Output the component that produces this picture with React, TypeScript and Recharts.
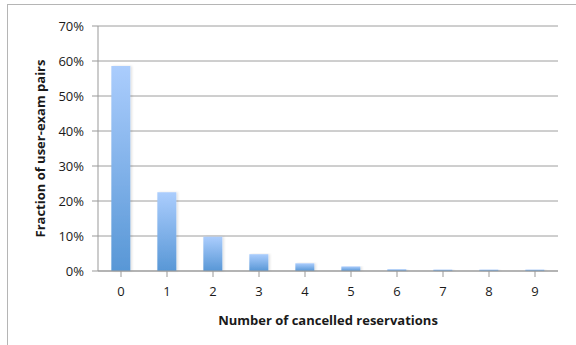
import React from 'react';
import {
  BarChart,
  Bar,
  XAxis,
  YAxis,
  CartesianGrid,
  Label
} from 'recharts';

// share of user-exam pairs by number of cancelled reservations
const cancellations = ['0', '1', '2', '3', '4', '5', '6', '7', '8', '9'];
const fractions = [0.586, 0.225, 0.098, 0.048, 0.022, 0.013, 0.005, 0.004, 0.004, 0.004];
const yTicks = [0, 0.1, 0.2, 0.3, 0.4, 0.5, 0.6, 0.7];

const data = cancellations.map((count, i) => ({ count, fraction: fractions[i] }));

const FONT = '"Open Sans", "Liberation Sans", sans-serif';
const TEXT = '#1a1a1a';

const App: React.FC = () => {
  return (
    <div
      style={{
        position: 'absolute',
        left: 0,
        top: 0,
        width: 576,
        height: 345,
        overflow: 'hidden',
        background: '#fff',
        fontFamily: FONT
      }}
    >
      <div
        style={{
          position: 'absolute',
          left: 7,
          top: 4,
          width: 620,
          height: 400,
          border: '1px solid #b5b5b5'
        }}
      />
      <BarChart
        width={576}
        height={345}
        data={data}
        margin={{ top: 26, right: 18, left: 0, bottom: 0 }}
        barCategoryGap="29%"
        style={{ position: 'absolute', left: 0, top: 0 }}
      >
        <defs>
          <linearGradient id="barFill" x1="0" y1="0" x2="0" y2="1">
            <stop offset="0%" stopColor="#abcdfd" />
            <stop offset="100%" stopColor="#5897d6" />
          </linearGradient>
          <filter id="barShadow" x="-20%" y="-5%" width="150%" height="110%">
            <feDropShadow dx="1.5" dy="0" stdDeviation="0.8" floodColor="#000" floodOpacity="0.12" />
          </filter>
        </defs>
        <CartesianGrid vertical={false} stroke="#9e9e9e" strokeWidth={1} />
        <XAxis
          dataKey="count"
          height={74}
          axisLine={{ stroke: '#999' }}
          tickLine={{ stroke: '#999' }}
          tickSize={6}
          tickMargin={10}
          tick={{ fill: TEXT, fontSize: 13, fontFamily: FONT }}
          interval={0}
        >
          <Label
            value="Number of cancelled reservations"
            position="insideBottom"
            offset={20}
            style={{ fill: TEXT, fontSize: 13, fontWeight: 700, fontFamily: FONT }}
          />
        </XAxis>
        <YAxis
          width={98}
          domain={[0, 0.7]}
          ticks={yTicks}
          interval={0}
          axisLine={{ stroke: '#999' }}
          tickLine={{ stroke: '#999' }}
          tickSize={6}
          tickMargin={8}
          tick={{ fill: TEXT, fontSize: 13, fontFamily: FONT }}
          tickFormatter={(v: number) => `${Math.round(v * 100)}%`}
        >
          <Label
            value="Fraction of user-exam pairs"
            angle={-90}
            position="insideLeft"
            offset={40}
            style={{ textAnchor: 'middle', fill: TEXT, fontSize: 13, fontWeight: 700, fontFamily: FONT }}
          />
        </YAxis>
        <Bar
          dataKey="fraction"
          fill="url(#barFill)"
          filter="url(#barShadow)"
          isAnimationActive={false}
        />
      </BarChart>
    </div>
  );
};

export default App;
